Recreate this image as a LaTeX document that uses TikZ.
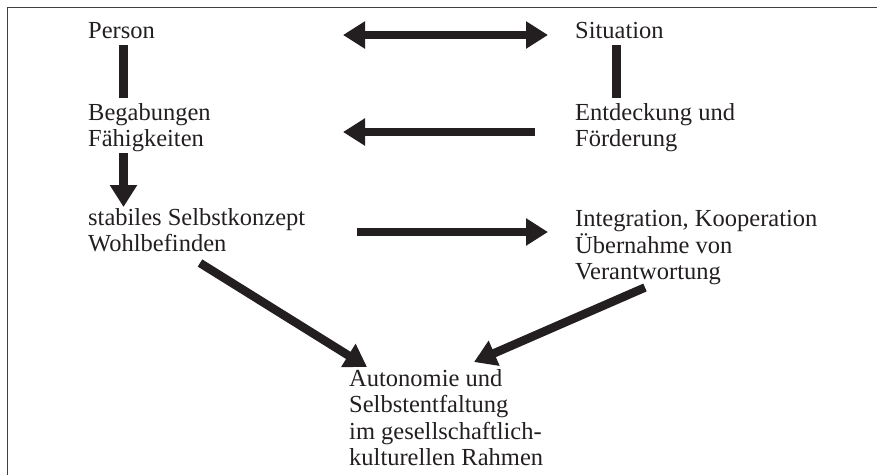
\documentclass[tikz,border=0pt]{standalone}
\usepackage{fontspec}
\setmainfont{Liberation Serif}
\usetikzlibrary{arrows.meta}
\definecolor{ink}{HTML}{231F20}
\tikzset{
  lbl/.style={anchor=base west, inner sep=0pt, align=left, text=ink,
    font=\fontsize{24.5}{26.3}\selectfont},
  bar/.style={draw=ink, line width=8.5pt},
  arr/.style={draw=ink, line width=8.5pt, -{Triangle[width=26pt,length=22pt]}},
  darr/.style={draw=ink, line width=8.5pt, {Triangle[width=26pt,length=22pt]}-{Triangle[width=26pt,length=22pt]}},
  frame/.style={draw=black!75, line width=1.2pt}
}
\begin{document}
\begin{tikzpicture}[x=1pt,y=-1pt]
\useasboundingbox (0,0) rectangle (877,475);
\coordinate (fTL) at (7.5,7.5);
\coordinate (fTR) at (877,7.5);
\coordinate (fBL) at (7.5,475);
\draw[frame] (fTR) -- (fTL) -- (fBL);

% node base = baseline of the last line
\node[lbl] (person) at (88,38) {Person};
\node[lbl] (begab) at (88,146.5) {Begabungen\\Fähigkeiten};
\node[lbl] (selbst) at (88,251.5) {stabiles Selbstkonzept\\Wohlbefinden};
\node[lbl] (situation) at (575,38) {Situation};
\node[lbl] (entd) at (575,146.5) {Entdeckung und\\Förderung};
\node[lbl] (integ) at (575,279.5) {Integration, Kooperation\\Übernahme von\\Verantwortung};
\node[lbl] (auto) at (349,465.5) {Autonomie und\\Selbstentfaltung\\im gesellschaftlich-\\kulturellen Rahmen};

\coordinate (pA) at (123.5,45);
\coordinate (pB) at (123.5,98);
\coordinate (sA) at (616.5,45);
\coordinate (sB) at (616.5,98);
\coordinate (dA) at (343,35);
\coordinate (dB) at (548,35);
\coordinate (lA) at (535,132);
\coordinate (lB) at (343,132);
\coordinate (vA) at (123.5,153);
\coordinate (vB) at (123.5,207);
\coordinate (rA) at (357,232);
\coordinate (rB) at (548,232);
\coordinate (gA) at (200,263);
\coordinate (gB) at (367,367);
\coordinate (hA) at (645,287.5);
\coordinate (hB) at (474,362);

\draw[bar] (pA) -- (pB);
\draw[bar] (sA) -- (sB);
\draw[darr] (dA) -- (dB);
\draw[arr] (lA) -- (lB);
\draw[arr] (vA) -- (vB);
\draw[arr] (rA) -- (rB);
\draw[arr] (gA) -- (gB);
\draw[arr] (hA) -- (hB);
\end{tikzpicture}
\end{document}
